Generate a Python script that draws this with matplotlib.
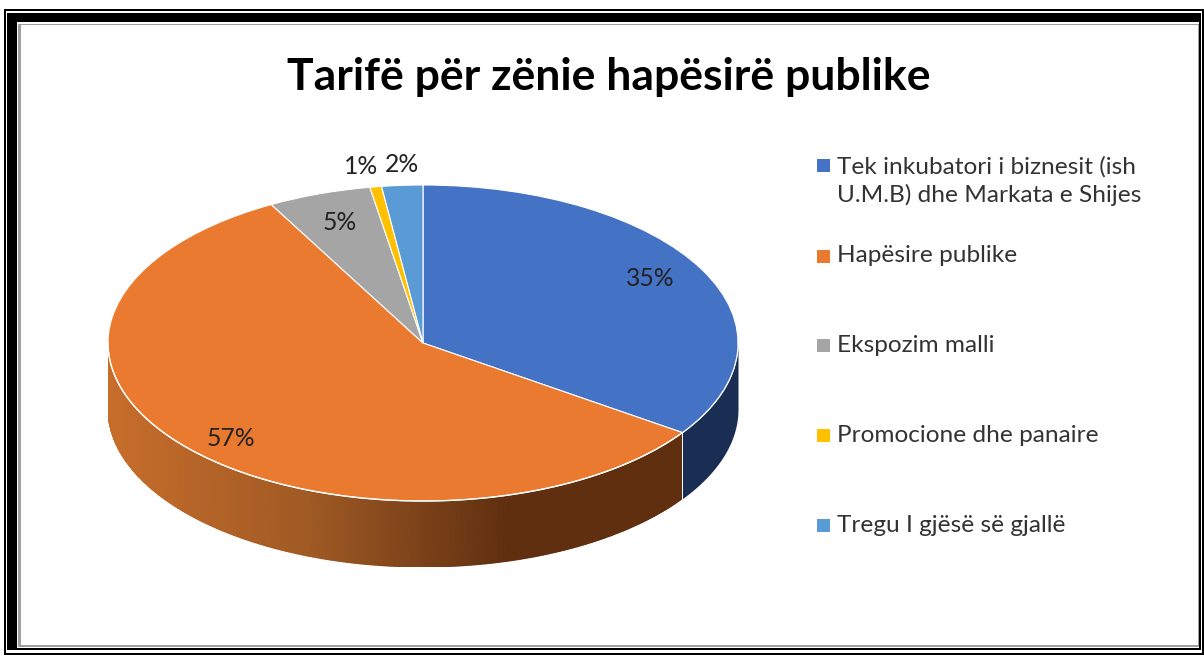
import numpy as np
import matplotlib
matplotlib.use('Agg')
import matplotlib.pyplot as plt
from matplotlib.colors import LinearSegmentedColormap
from matplotlib.patches import Rectangle

plt.rcParams['font.family'] = ['Lato', 'DejaVu Sans']

title = 'Tarifë për zënie hapësirë publike'
categories = ['Tek inkubatori i biznesit (ish\nU.M.B) dhe Markata e Shijes',
              'Hapësire publike', 'Ekspozim malli',
              'Promocione dhe panaire', 'Tregu I gjësë së gjallë']
values = [34.6, 57.4, 5.3, 0.6, 2.1]
colors = ['#4472C4', '#E97A2F', '#A5A5A5', '#FFC000', '#5B9BD5']

W, H = 1204, 655
cx, cy, rx, ry, depth = 423, 343, 315, 158, 66

fig = plt.figure(figsize=(W / 100, H / 100), dpi=100, facecolor='white')

#overlay in picture pixels, frame goes underneath
bg = fig.add_axes([0, 0, 1, 1], zorder=0)
bg.set_xlim(0, W)
bg.set_ylim(H, 0)
bg.axis('off')


def box(x0, y0, x1, y1, col):
    bg.add_patch(Rectangle((x0, y0), x1 - x0, y1 - y0, fc=col, ec='none'))


box(4, 9, 1204, 655, 'black')
box(6, 11, 1202, 653, 'white')
box(7, 13, 1201, 650, 'black')
box(17, 22, 1199, 648, 'white')
box(18, 24, 1199, 647, '#A0A0A0')
box(21, 25, 1198, 645, 'white')

#pie axes, squashed so the circle turns into an ellipse
ax = fig.add_axes([(cx - rx) / W, 1 - (cy + ry + depth) / H, 2 * rx / W, (2 * ry + depth) / H], zorder=1)
wedges, _ = ax.pie(values, colors=colors, startangle=90, counterclock=False, radius=1,
                   wedgeprops={'edgecolor': 'white', 'linewidth': 0.8, 'zorder': 3})
ax.set_aspect('auto')
d = depth / ry
ax.set_xlim(-1, 1)
ax.set_ylim(-1 - d, 1)

#side wall
blue_end = np.radians(90 - 360 * values[0] / sum(values))
th = np.linspace(np.pi, 2 * np.pi + blue_end, 300)
X = np.vstack([np.cos(th), np.cos(th)])
Y = np.vstack([np.sin(th), np.sin(th) - d])
wall = LinearSegmentedColormap.from_list('wall', ['#C76D2B', '#A05A24', '#5F2F10', '#5F2F10'])
C = np.vstack([(X[0] + 1) / (np.cos(blue_end) + 1)] * 2)
ax.pcolormesh(X, Y, C, cmap=wall, vmin=0, vmax=1.05, shading='gouraud', zorder=1)
th2 = np.linspace(blue_end, 0, 60)
ax.fill_between(np.cos(th2), np.sin(th2), np.sin(th2) - d, color='#1A2D52', lw=0, zorder=1)
ax.plot([np.cos(blue_end)] * 2, [np.sin(blue_end), np.sin(blue_end) - d], color='white', lw=0.7, zorder=2)
ax.plot(np.cos(th), np.sin(th), color='white', lw=1.0, zorder=4)

ov = fig.add_axes([0, 0, 1, 1], facecolor='none', zorder=2)
ov.set_xlim(0, W)
ov.set_ylim(H, 0)
ov.axis('off')

ov.text(609, 77, title, ha='center', va='center', fontsize=32, fontweight='bold', color='black')

#data labels
label_pos = [(650, 278), (231, 439), (340, 223), (361, 166), (402, 165)]
for v, (x, y) in zip(values, label_pos):
    ov.text(x, y, f'{v:.0f}%', ha='center', va='center', fontsize=17.8, color='#222222')

#legend
legend_y = [165, 256, 345, 435, 525]
text_y = [181, 256, 346, 436, 525]
for name, col, my, ty in zip(categories, colors, legend_y, text_y):
    ov.add_patch(Rectangle((817, my - 6), 13, 13, fc=col, ec='none'))
    ov.text(837, ty, name, ha='left', va='center', fontsize=17.6, color='#333333', linespacing=1.4)

fig.savefig('out.png', dpi=100)
